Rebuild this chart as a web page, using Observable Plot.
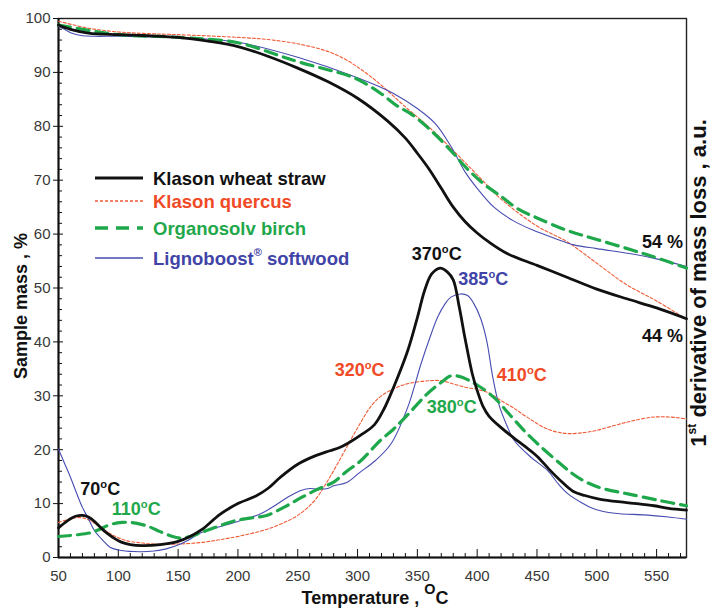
<!DOCTYPE html>
<html><head><meta charset="utf-8">
<script src="https://cdn.jsdelivr.net/npm/d3@7"></script>
<script src="https://cdn.jsdelivr.net/npm/@observablehq/plot@0.6"></script>
<style>body{margin:0;background:#fff} svg{display:block}</style>
</head><body><div id="chart"></div>
<script>
// ---- TG curves (sample mass, %) ----
const tgWheatT = [50,60,75,100,125,150,175,200,225,250,275,300,325,340,350,360,370,380,390,400,410,425,450,475,500,525,550,575];
const tgWheatM = [98.8,98,97.3,97,96.8,96.5,95.8,94.8,93,90.8,88.3,85.2,81,77.8,75,72,68.5,65,62.3,60.2,58.5,56.4,54.2,52,49.8,48,46.3,44.3];
const tgQuercusT = [50,75,100,125,150,200,225,250,275,290,300,310,320,340,360,380,400,420,450,475,500,525,550,575];
const tgQuercusM = [99.5,98.2,97.5,97.2,97,96.5,96.1,95.3,93.9,92.4,91,89.4,87.6,83.6,79.8,75.5,71,66.5,61.5,58.6,54.6,50.6,47.6,44.2];
const tgBirchT = [50,75,100,150,200,236,250,275,291,302,320,333,344,360,378,390,405,420,434,450,475,500,530,550,575];
const tgBirchM = [98.8,97.8,97,96.5,95.5,93,92,90.5,89.5,88.5,86,83.8,82.4,79.5,75.5,72.5,69.4,67,64.7,63,60.7,59,57,55.6,53.7];
const tgSoftT = [50,55,62,70,80,100,150,200,250,300,330,350,365,378,390,400,414,430,447,465,481,500,530,550,575];
const tgSoftM = [98.5,98,97.2,96.8,96.7,96.7,96.5,95.6,92.8,89,86.1,83.3,80.5,76.3,71.5,68.5,65,62.5,60.7,59.2,58,57.3,56.3,55.4,54];

// ---- DTG curves (1st derivative, a.u.) ----
const dtgWheatT = [50,55,60,65,70,75,80,85,90,95,102,110,120,135,150,160,170,185,200,215,225,235,250,265,277,285,292,302,314,322,330,342,350,356,362,369,375,380,385,390,396,400,405,410,420,430,440,450,460,470,480,490,503,525,548,560,575];
const dtgWheatV = [5.5,6.4,7.2,7.7,7.8,7.5,6.7,5.6,4.6,3.8,2.9,2.4,2.2,2.4,3.0,3.9,5.2,8.0,10.0,11.4,12.8,14.8,17.3,18.9,19.8,20.4,21.2,22.6,24.6,27.5,31.5,38.4,44.5,49.5,52.6,53.7,53.0,51.5,46.5,40.5,34,31,28,26.2,24.1,22.3,20.6,18.8,16.4,14.2,12.3,11.5,10.8,10.2,9.6,9.1,8.8];
const dtgQuercusT = [50,60,68,75,85,95,107,120,130,150,170,185,202,225,247,258,266,273,280,294,302,311,320,333,345,360,370,380,390,400,410,420,430,442,459,475,490,500,525,545,555,565,575];
const dtgQuercusV = [6.5,7.2,7.4,7.0,5.6,4.2,3.1,2.7,2.5,2.5,2.8,3.3,4.0,5.3,7.4,9.2,11.1,13.5,16.1,21.7,24.8,28,30,31.6,32.4,32.8,32.8,32.2,31.6,31.2,30.5,29.1,27.8,26,23.8,23,23.2,23.6,25.1,26,26.1,26,25.7];
const dtgBirchT = [50,65,77,85,93,103,110,120,127,135,144,152,160,169,180,197,210,224,240,252,265,280,291,302,319,330,342,358,370,378,385,392,400,414,428,442,456,470,480,492,505,526,554,575];
const dtgBirchV = [3.9,4.2,4.6,5.3,6.1,6.5,6.5,6.1,5.6,4.8,4.0,3.6,3.9,4.6,5.5,6.8,7.3,7.8,9.5,11,12.5,14,16,17.8,21.7,23.8,26.5,30.3,32.5,33.7,33.6,33,32,29.7,26.3,22.9,20,17.3,15.5,13.9,12.8,11.8,10.5,9.6];
const dtgSoftT = [50,55,60,65,70,75,80,87,93,100,113,130,140,152,160,169,180,197,219,230,241,252,260,266,275,280,291,302,315,328,342,353,360,367,373,378,386,392,397,403,408,413,418,425,431,445,459,468,476,487,498,515,540,560,575];
const dtgSoftV = [20.1,17.5,14.9,12,9.3,7.2,5,3.2,1.9,1.4,1.1,1.2,1.6,2.5,3.4,4.6,5.4,6.5,8.1,9.5,11.1,12.4,12.8,12.7,12.8,13.3,13.9,15.8,18,21.1,27.9,35.9,40.5,44.6,47,48.3,48.9,48.6,47.2,44.3,40.2,33.5,28.5,24.4,21.7,18.6,16.1,13.6,11.8,10.2,9,8.2,7.9,7.5,7.1];

// ---- ticks ----
const xTicks = [50,100,150,200,250,300,350,400,450,500,550];
const xMinor = d3.range(60, 576, 10).filter(v => v % 50 !== 0);
const yTicks = [0,10,20,30,40,50,60,70,80,90,100];
const yMinor = d3.range(2, 100, 2).filter(v => v % 10 !== 0);

// ---- annotations ----
const annLabels = ["70^o^C","110^o^C","320^o^C","370^o^C","385^o^C","410^o^C","380^o^C"];
const annX = [84.9,115,301.7,366.2,405.1,437.3,378.7];
const annY = [12.6,8.9,34.7,56.2,51.6,33.8,27.8];
const annSeries = ["wheat","birch","quercus","wheat","soft","quercus","birch"];
const residueLabels = ["54 %","44 %"];
const residueX = [572,572];
const residueY = [58.5,41];

// ---- legend ----
const legendNames = ["Klason wheat straw","Klason quercus","Organosolv birch","Lignoboost^®^ softwood"];
const legendKeys = ["wheat","quercus","birch","soft"];

const colors = {wheat:"#111111", quercus:"#f04a26", birch:"#1fa84b", soft:"#3f44a6"};
const lineStyle = {
  wheat: {stroke: colors.wheat, strokeWidth: 2.8},
  quercus: {stroke: "#f25a36", strokeWidth: 1.1, strokeDasharray: "3,2"},
  birch: {stroke: colors.birch, strokeWidth: 3.2, strokeDasharray: "12,7"},
  soft: {stroke: "#474cb0", strokeWidth: 1.1}
};

const curve = "catmull-rom";
const L = (T, V, k) => Plot.line(V, {x: T, y: V, curve, ...lineStyle[k]});

const svg = Plot.plot({
  width: 713, height: 609,
  marginTop: 18, marginBottom: 52, marginLeft: 58, marginRight: 27,
  style: {fontFamily: "'Liberation Sans', Arial, sans-serif", background: "#fff", overflow: "visible"},
  x: {domain: [50, 575]},
  y: {domain: [0, 100]},
  marks: [
    Plot.frame({stroke: "#222", strokeWidth: 1.4}),
    Plot.ruleX([50], {stroke: "#111", strokeWidth: 2}),
    Plot.ruleY([0], {stroke: "#111", strokeWidth: 2}),
    Plot.axisY(yTicks, {anchor: "left", tickSize: 10, dx: 5, tickPadding: 3, fontSize: 15, fill: "#383838", stroke: "#111", label: null}),
    Plot.axisY(yMinor, {anchor: "left", tickSize: 4, dx: 4, fill: "none", stroke: "#111", label: null}),
    Plot.axisX(xTicks, {anchor: "bottom", tickSize: 0, tickPadding: 13, fontSize: 15, fill: "#383838", label: null}),
    Plot.axisX(xTicks, {anchor: "bottom", tickSize: 8, dy: -8, fill: "none", stroke: "#111", label: null}),
    Plot.axisX(xMinor, {anchor: "bottom", tickSize: 4, dy: -4, fill: "none", stroke: "#111", label: null}),
    L(tgQuercusT, tgQuercusM, "quercus"),
    L(tgSoftT, tgSoftM, "soft"),
    L(tgBirchT, tgBirchM, "birch"),
    L(tgWheatT, tgWheatM, "wheat"),
    L(dtgQuercusT, dtgQuercusV, "quercus"),
    L(dtgSoftT, dtgSoftV, "soft"),
    L(dtgBirchT, dtgBirchV, "birch"),
    L(dtgWheatT, dtgWheatV, "wheat"),
    Plot.text(annLabels, {x: annX, y: annY, text: d => d, fill: annSeries.map(k => colors[k]), fontSize: 18, fontWeight: "bold", textAnchor: "middle"}),
    Plot.text(residueLabels, {x: residueX, y: residueY, text: d => d, fill: "#111", fontSize: 18, fontWeight: "bold", textAnchor: "end"})
  ]
});
document.getElementById("chart").append(svg);

// rich text with ^superscript^ segments
function rich(sel, str, fs, scale = 0.62, raise = 0.42) {
  sel.text(null);
  let raised = false;
  str.split("^").forEach((p, i) => {
    if (!p) return;
    const t = sel.append("tspan").text(p);
    if (i % 2 === 1) { t.attr("font-size", fs * scale).attr("dy", -fs * raise); raised = true; }
    else if (raised) { t.attr("dy", fs * raise); raised = false; }
  });
}
const s = d3.select(svg);
s.selectAll("text").each(function() {
  const t = d3.select(this);
  const str = t.text();
  if (str.includes("^")) rich(t, str, 18);
});

// legend (inside plot, upper left)
const legY = [178, 201, 228, 258];
const leg = s.append("g").attr("font-size", 18.5).attr("font-weight", "bold").attr("text-anchor", "start");
legendKeys.forEach((k, i) => {
  const st = lineStyle[k];
  leg.append("line").attr("x1", 95).attr("x2", 143).attr("y1", legY[i]).attr("y2", legY[i])
    .attr("stroke", st.stroke).attr("stroke-width", k === "birch" ? 3.6 : (k === "wheat" ? 3 : 1.3))
    .attr("stroke-dasharray", k === "birch" ? "13,8" : (k === "quercus" ? "3,2" : null));
  const t = leg.append("text").attr("x", 153).attr("y", legY[i]).attr("dy", "0.36em")
    .attr("text-anchor", "start").attr("fill", colors[k]);
  rich(t, legendNames[i], 18.5, 0.6, 0.45);
});

// axis titles
const titles = s.append("g").attr("font-weight", "bold").attr("fill", "#111");
titles.append("text").attr("transform", "translate(27,306) rotate(-90)").attr("text-anchor", "middle")
  .attr("font-size", 18).text("Sample mass , %");
const rt = titles.append("text").attr("transform", "translate(706,283) rotate(-90)").attr("text-anchor", "middle")
  .attr("font-size", 22);
rich(rt, "1^st^ derivative of mass loss , a.u.", 22, 0.55, 0.45);
const xt = titles.append("text").attr("x", 375).attr("y", 604).attr("text-anchor", "middle").attr("font-size", 18);
rich(xt, "Temperature , ^O^C", 18, 0.8, 0.55);
</script></body></html>
